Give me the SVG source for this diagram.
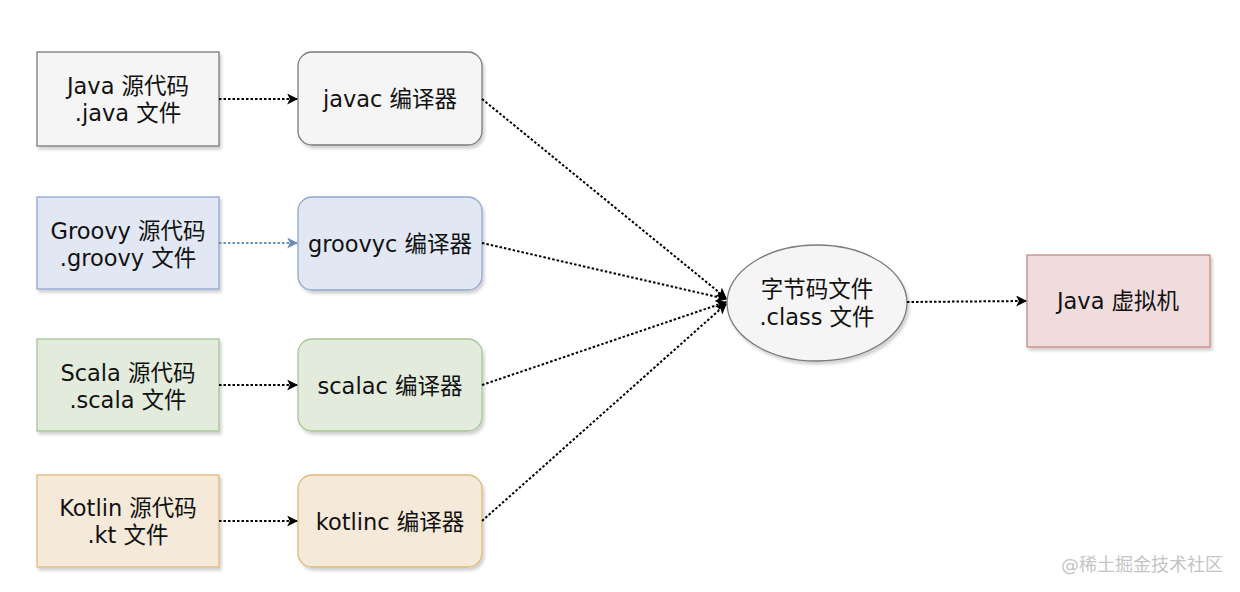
<svg xmlns="http://www.w3.org/2000/svg" width="1240" height="592" viewBox="0 0 1240 592">
<defs>
<filter id="sh" x="-10%" y="-10%" width="125%" height="130%">
<feDropShadow dx="2" dy="3" stdDeviation="1.5" flood-color="#000" flood-opacity="0.18"/>
</filter>
<marker id="ah" viewBox="0 0 10 10" refX="9" refY="5" markerWidth="11" markerHeight="11" markerUnits="userSpaceOnUse" orient="auto">
<path d="M0,0 L10,5 L0,10 L2.5,5 Z" fill="#000"/>
</marker>
<marker id="ahb" viewBox="0 0 10 10" refX="9" refY="5" markerWidth="11" markerHeight="11" markerUnits="userSpaceOnUse" orient="auto">
<path d="M0,0 L10,5 L0,10 L2.5,5 Z" fill="#6c8ebf"/>
</marker>
</defs>
<style>
text{font-family:"DejaVu Sans","Noto Sans CJK SC",sans-serif;font-size:22.5px;fill:#111;text-anchor:middle;dominant-baseline:central}
.e{fill:none;stroke:#000;stroke-width:2;stroke-dasharray:2.5 2;marker-end:url(#ah)}
.eb{fill:none;stroke:#6c8ebf;stroke-width:2;stroke-dasharray:2.5 2;marker-end:url(#ahb)}
.g{fill:#f5f5f5;stroke:#7a7a7a}
.b{fill:#e1e8f4;stroke:#8fa7cf}
.gr{fill:#e3ecdc;stroke:#a5c592}
.o{fill:#f5e9da;stroke:#e0b878}
.r{fill:#f0dcdc;stroke:#c98885}
rect,ellipse{stroke-width:1.3;filter:url(#sh)}
.wm{font-size:18px;fill:#c4c4c4;text-anchor:start}
</style>
<g id="java-src"><rect class="g" x="37" y="52" width="182" height="94"/><text x="128" y="86">Java 源代码</text><text x="128" y="113">.java 文件</text></g>
<g id="javac"><rect class="g" x="298" y="52" width="184" height="93" rx="14"/><text x="390" y="99">javac 编译器</text></g>
<g id="groovy-src"><rect class="b" x="37" y="197" width="182" height="92"/><text x="128" y="231">Groovy 源代码</text><text x="128" y="258">.groovy 文件</text></g>
<g id="groovyc"><rect class="b" x="298" y="197" width="184" height="93" rx="14"/><text x="390" y="244">groovyc 编译器</text></g>
<g id="scala-src"><rect class="gr" x="37" y="339" width="182" height="92"/><text x="128" y="373">Scala 源代码</text><text x="128" y="400">.scala 文件</text></g>
<g id="scalac"><rect class="gr" x="298" y="339" width="184" height="92" rx="14"/><text x="390" y="386">scalac 编译器</text></g>
<g id="kotlin-src"><rect class="o" x="37" y="475" width="182" height="92"/><text x="128" y="508">Kotlin 源代码</text><text x="128" y="535">.kt 文件</text></g>
<g id="kotlinc"><rect class="o" x="298" y="475" width="184" height="92" rx="14"/><text x="390" y="522">kotlinc 编译器</text></g>
<g id="class"><ellipse cx="817" cy="303" rx="90" ry="58" fill="#f5f5f5" stroke="#7a7a7a"/><text x="817" y="289">字节码文件</text><text x="817" y="317">.class 文件</text></g>
<g id="jvm"><rect class="r" x="1027" y="255" width="183" height="92"/><text x="1118" y="301">Java 虚拟机</text></g>
<g id="connectors">
<path class="e" d="M219,99 L297,99"/>
<path class="eb" d="M219,243 L297,243"/>
<path class="e" d="M219,385 L297,385"/>
<path class="e" d="M219,521 L297,521"/>
<path class="e" d="M482,99 L726,298"/>
<path class="e" d="M482,243 L726,299"/>
<path class="e" d="M482,385 L726,302"/>
<path class="e" d="M482,521 L726,304"/>
<path class="e" d="M907,302 L1026,301"/>
</g>
<text class="wm" x="1061" y="564">@稀土掘金技术社区</text>
</svg>
